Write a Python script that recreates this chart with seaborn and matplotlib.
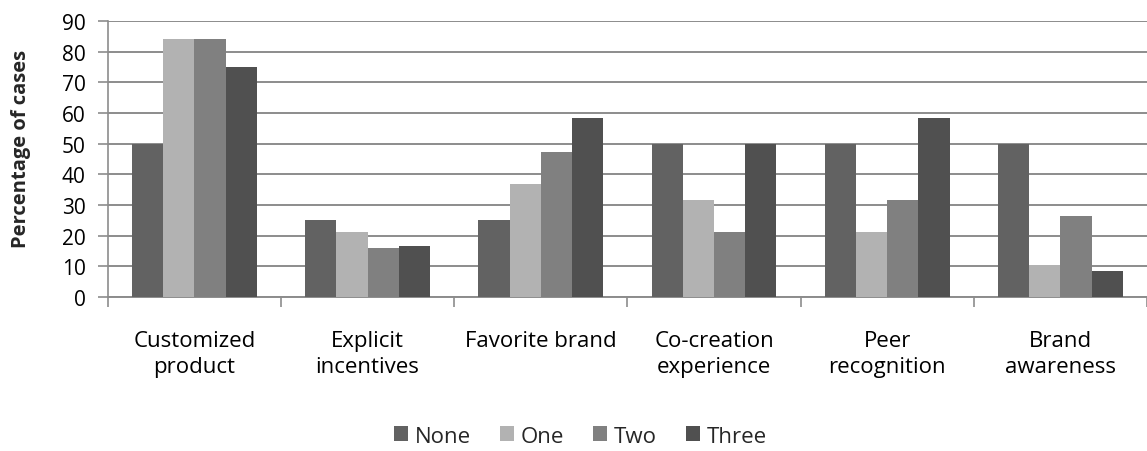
import matplotlib
matplotlib.use("Agg")
import matplotlib.pyplot as plt
from matplotlib.patches import Patch
from matplotlib.ticker import FixedLocator
import pandas as pd
import seaborn as sns

categories = ["Customized\nproduct", "Explicit\nincentives", "Favorite brand",
              "Co-creation\nexperience", "Peer\nrecognition", "Brand\nawareness"]
series = ["None", "One", "Two", "Three"]
none_vals = [50, 25, 25, 50, 50, 50]
one_vals = [84.2, 21.1, 36.8, 31.6, 21.1, 10.5]
two_vals = [84.2, 15.8, 47.4, 21.1, 31.6, 26.3]
three_vals = [75, 16.7, 58.3, 50, 58.3, 8.3]
colors = ["#626262", "#b2b2b2", "#808080", "#505050"]

rows = []
for name, vals in zip(series, [none_vals, one_vals, two_vals, three_vals]):
    for cat, v in zip(categories, vals):
        rows.append({"category": cat, "series": name, "value": v})
df = pd.DataFrame(rows)

sns.set_style("white")
plt.rcParams["font.family"] = ["Open Sans", "DejaVu Sans"]

fig = plt.figure(figsize=(11.47, 4.52), dpi=100)
ax = fig.add_axes([0.094, 0.341, 0.906, 0.610])

sns.barplot(data=df, x="category", y="value", hue="series", hue_order=series,
            order=categories, palette=colors, width=0.72, dodge=True,
            saturation=1, edgecolor="none", ax=ax, legend=False, zorder=3)

ax.set_ylim(0, 90)
ax.set_xlim(-0.5, len(categories) - 0.5)
ax.set_yticks(range(0, 91, 10))
ax.yaxis.grid(True, color="#8c8c8c", linewidth=1.4, zorder=0)
ax.set_axisbelow(True)

for side in ["top", "right"]:
    ax.spines[side].set_visible(False)
ax.spines["left"].set_color("#8c8c8c")
ax.spines["left"].set_linewidth(1.2)
ax.spines["bottom"].set_color("#8c8c8c")
ax.spines["bottom"].set_linewidth(1.4)

ax.tick_params(axis="y", which="major", left=True, length=7, width=1.2,
               color="#8c8c8c", labelsize=15, pad=9, labelcolor="black")
ax.tick_params(axis="x", which="major", bottom=False, labelsize=16, pad=20,
               labelcolor="black")
ax.xaxis.set_minor_locator(FixedLocator([i - 0.5 for i in range(len(categories) + 1)]))
ax.tick_params(axis="x", which="minor", bottom=True, length=7, width=1.2,
               color="#8c8c8c")
for lbl in ax.get_xticklabels():
    lbl.set_linespacing(1.35)

ax.set_xlabel("")
ax.set_ylabel("Percentage of cases", fontsize=14.5, fontweight="bold", labelpad=10)
ax.yaxis.set_label_coords(-0.074, 0.54)

handles = [Patch(facecolor=c, edgecolor="none") for c in colors]
fig.legend(handles, series, loc="center", bbox_to_anchor=(0.506, 0.033), ncol=4,
           frameon=False, fontsize=16, handlelength=0.65, handleheight=0.65,
           handletextpad=0.3, columnspacing=1.3)

fig.savefig("out.png", dpi=100)
